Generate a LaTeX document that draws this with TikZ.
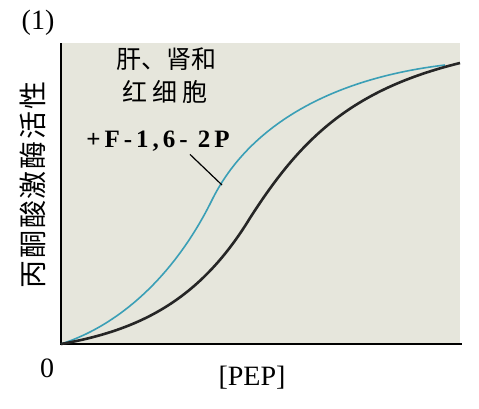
\documentclass[tikz,border=0pt]{standalone}
\usepackage{fontspec}
\setmainfont{Liberation Serif}
\newfontfamily\cjk{Noto Sans CJK SC}
\usetikzlibrary{positioning}
\definecolor{plotbg}{HTML}{E6E6DC}
\definecolor{curveblue}{HTML}{3A9FB6}

\begin{document}
\begin{tikzpicture}[x=1pt, y=-1pt, every node/.style={align=center, inner sep=0pt},
  cjklabel/.style={font=\cjk\fontsize{25}{31}\selectfont},
  latlabel/.style={font=\fontsize{28}{32}\selectfont}]
\useasboundingbox (0,0) rectangle (479,408);
% Plot area
\fill[plotbg] (61,43) rectangle (460,344);
\draw[line width=2pt] (61,43) -- (61,344) -- (462,344);

% Curves
\draw[curveblue, line width=1.6pt] (61,344) .. controls (120,325) and (175,275) .. (212,200)
  .. controls (245,133) and (320,80) .. (445,65);
\draw[black!85, line width=2.6pt] (61,344) .. controls (140,330) and (200,300) .. (250,218)
  .. controls (300,140) and (350,90) .. (460,63);

% Labels
\node[latlabel] (num) at (38,23) {(1)};
\node[cjklabel] (organ1) at (166,59) {肝、肾和};
\node[font=\cjk\fontsize{25}{31}\selectfont\addfontfeature{LetterSpace=20}] (organ2) at (165,92) {红细胞};
\node[font=\bfseries\fontsize{25}{30}\selectfont\addfontfeature{LetterSpace=16}] (f16) at (158,141) {+F-1,6- 2P};
\node[font=\cjk\fontsize{28}{32}\selectfont\addfontfeature{LetterSpace=6}, rotate=90] (ylab) at (33,185) {丙酮酸激酶活性};
\node[latlabel] (zero) at (47,368) {0};
\node[latlabel] (pep) at (252,378) {[PEP]};

% Leader line
\coordinate (tip) at (222,185);
\draw[line width=1.2pt] ([xshift=32pt, yshift=-3pt]f16.south) -- (tip);
\end{tikzpicture}
\end{document}
